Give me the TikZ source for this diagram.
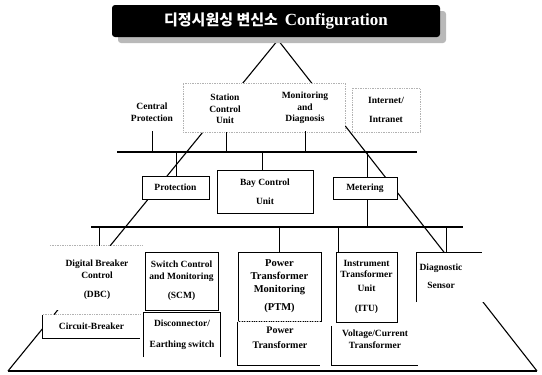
\documentclass[tikz,border=0pt]{standalone}
\usepackage{fontspec}
\setmainfont{Liberation Serif}
\newfontfamily\kr{Noto Sans CJK KR}
\usetikzlibrary{shadows}
\begin{document}
\begin{tikzpicture}[x=1pt,y=-1pt,
  txt/.style={align=center, font=\fontsize{9.5}{11.5}\selectfont\bfseries, inner sep=0pt},
  bx/.style={txt, draw, line width=0.8pt, fill=white},
  hid/.style={txt, fill=white},
  dotl/.style={densely dotted, draw=gray!60, line width=0.7pt},
  edge/.style={line width=0.8pt},
  tri/.style={line width=1.1pt},
  bus/.style={line width=1.8pt},
  drop/.style={line width=0.8pt}]
\useasboundingbox (0,0) rectangle (542,375);
% pyramid
\coordinate (apex) at (278,40);
\coordinate (tl) at (8,371);
\coordinate (tr) at (537,371);
\draw[tri] (tl) -- (apex) -- (tr);
\draw[tri] (tl) -- (tr);
% buses
\coordinate (b1l) at (117,152);
\coordinate (b1r) at (417,152);
\coordinate (b2l) at (91,227);
\coordinate (b2r) at (463,227);
\draw[bus] (b1l) -- (b1r);
\draw[bus] (b2l) -- (b2r);
% top tier
\node[hid, dotl, minimum width=162pt, minimum height=49pt] (smd) at (264,107.5) {};
\node[hid, dotl, minimum width=68pt, minimum height=44pt] (inet) at (386,110) {Internet/\\[8pt]Intranet};
\node[txt, minimum height=38pt] (cp) at (152,112) {Central\\Protection};
\node[txt, minimum height=46pt] (scu) at (225,109) {Station\\Control\\Unit};
\node[txt, minimum height=46pt] (md) at (305,108) {Monitoring\\and\\Diagnosis};
% middle tier
\node[bx, minimum width=67pt, minimum height=23pt] (prot) at (175.5,187.5) {Protection};
\node[bx, minimum width=96pt, minimum height=43pt] (bcu) at (265,191.5) {Bay Control\\[7pt]Unit};
\node[bx, minimum width=64pt, minimum height=22pt] (met) at (365,188) {Metering};
% bottom tier
\node[hid, minimum width=92pt, minimum height=64pt] (dbc) at (96,278) {};
\node[txt] (dbct) at (97,280) {Digital Breaker\\Control\\[8pt](DBC)};
\node[bx, minimum width=73pt, minimum height=58pt] (scm) at (181.5,281) {Switch Control\\and Monitoring\\[8pt](SCM)};
\node[hid, minimum width=97pt, minimum height=23pt] (cb) at (91.5,326.5) {Circuit-Breaker};
\node[hid, minimum width=76pt, minimum height=44pt] (disc) at (182,335) {Disconnector/\\[10pt]Earthing switch};
\node[bx, minimum width=83pt, minimum height=69pt, font=\fontsize{10.5}{12}\selectfont\bfseries] (ptm) at (279.5,286.5) {Power\\[1pt]Transformer\\[1pt]Monitoring\\[6pt](PTM)};
\node[hid, minimum width=82pt, minimum height=43pt] (pt) at (279,343.5) {};
\node[txt, font=\fontsize{10}{12}\selectfont\bfseries] (ptt) at (280,338) {Power\\[3pt]Transformer};
\node[bx, minimum width=61pt, minimum height=70pt] (itu) at (366.5,287) {Instrument\\Transformer\\[2pt]Unit\\[9pt](ITU)};
\node[hid, minimum width=86pt, minimum height=39pt] (vct) at (375,345.5) {};
\node[txt] (vctt) at (375,339) {Voltage/Current\\Transformer};
\node[hid, minimum width=71pt, minimum height=49pt] (diag) at (452.5,277.5) {};
\node[txt] (diagt) at (441,276) {Diagnostic\\[6pt]Sensor};
% partial box edges
\draw[dotl] (dbc.north west) -- (dbc.north east);
\draw[edge] (cb.north west) -- (cb.south west) -- (cb.south east);
\draw[dotl] (cb.north west) -- (cb.north east);
\draw[edge] (disc.south west) -- (disc.north west) -- (disc.north east) -- (disc.south east);
\draw[edge] (pt.north west) -- (pt.south west) -- (pt.south east);
\draw[dotl] (pt.north west) -- (pt.north east);
\draw[edge] (vct.north west) -- (vct.south west) -- (vct.south east);
\draw[edge] (diag.south west) -- (diag.north west) -- ([xshift=-6pt]diag.north east);
% drop lines
\draw[drop] (cp.south) -- (cp.south |- b1l);
\draw[drop] ([xshift=1pt]scu.south) -- ([xshift=1pt]scu.south |- b1l);
\draw[drop] (md.south) -- (md.south |- b1l);
\draw[drop] ([xshift=0.5pt]prot.north) -- ([xshift=0.5pt]prot.north |- b1l);
\draw[drop] ([xshift=-3pt]bcu.north) -- ([xshift=-3pt]bcu.north |- b1l);
\draw[drop] ([xshift=2pt]met.north) -- ([xshift=2pt]met.north |- b1l);
\draw[drop] ([xshift=2pt]met.south) -- ([xshift=2pt]met.south |- b2l);
\draw[drop] ([xshift=3pt]dbc.north) -- ([xshift=3pt]dbc.north |- b2l);
\draw[drop] (ptm.north) -- (ptm.north |- b2l);
\draw[drop] ([xshift=-28pt]itu.north) -- ([xshift=-28pt]itu.north |- b2l);
\draw[drop] ([xshift=-6pt]diag.north) -- ([xshift=-6pt]diag.north |- b2l);
% title banner
\node[fill=black, rounded corners=3pt, minimum width=328pt, minimum height=32pt, inner sep=0pt,
  drop shadow={shadow xshift=6pt, shadow yshift=-6pt, fill=gray!55, opacity=1}, text=white]
  (title) at (276,21) {{\kr\fontsize{15}{15}\selectfont\bfseries 디정시원싱 변신소}\hspace{7pt}{\fontsize{17}{17}\selectfont\bfseries Configuration}};
\end{tikzpicture}
\end{document}
